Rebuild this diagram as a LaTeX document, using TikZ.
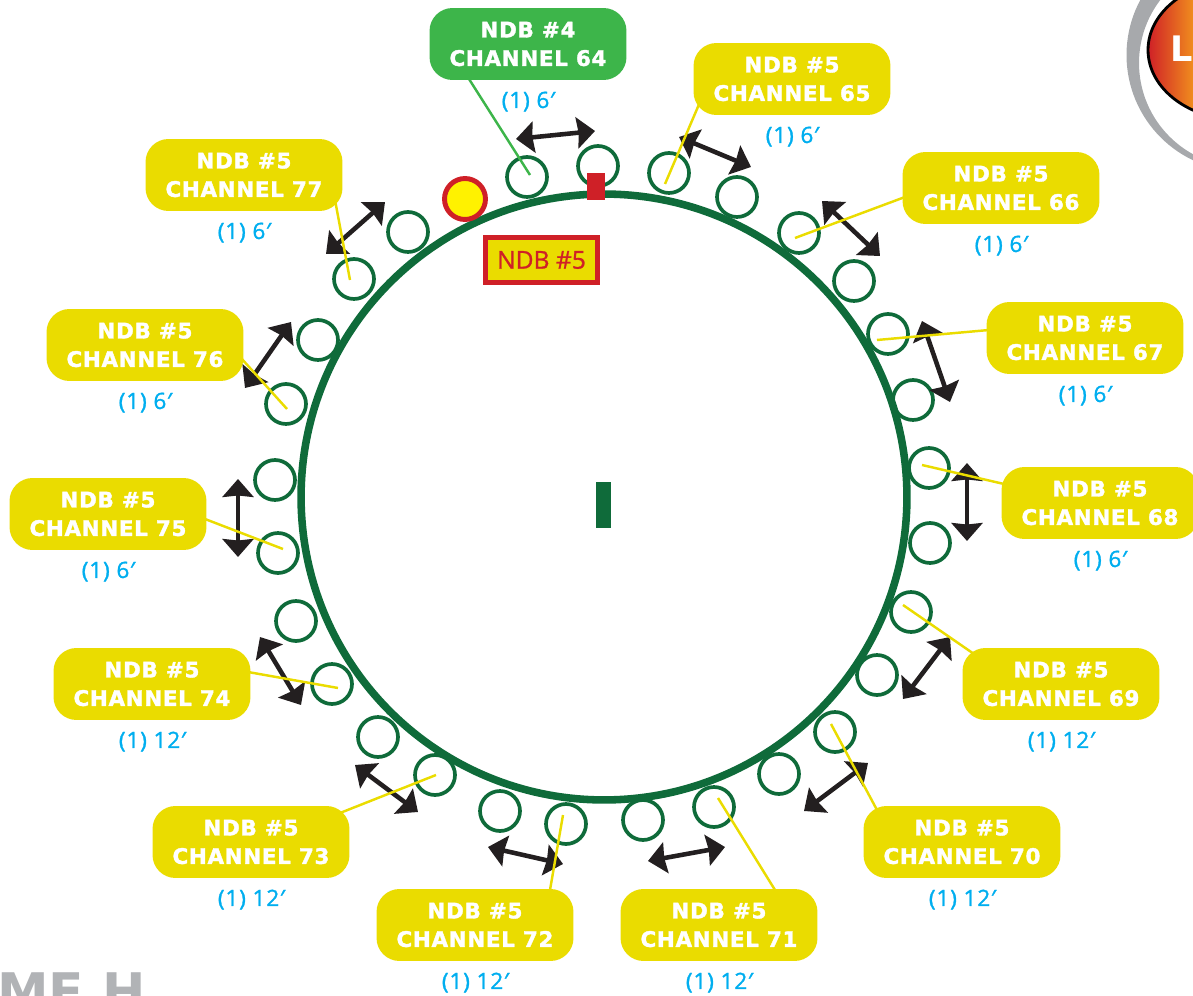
\documentclass[tikz,border=0pt]{standalone}
\usepackage{fontspec}
\usepackage{tikz}
\usetikzlibrary{arrows.meta,shapes.geometric,positioning}
\setmainfont{Open Sans}
\newfontfamily\heavyfont[LetterSpace=3,FakeBold=1.6]{DejaVu Sans Bold}
\newfontfamily\greyfont{DejaVu Sans}
\newfontfamily\capfont[LetterSpace=4,FakeBold=1.4]{Open Sans}
\newfontfamily\legendfont[FakeBold=1]{Open Sans}
\definecolor{ndbgreen}{RGB}{61,181,74}
\definecolor{ndbyellow}{RGB}{234,220,0}
\definecolor{trackgreen}{RGB}{15,107,58}
\definecolor{ndbred}{RGB}{207,32,39}
\definecolor{capblue}{RGB}{0,174,239}
\definecolor{dotyellow}{RGB}{255,242,0}
\definecolor{arrowblack}{RGB}{35,31,32}
\definecolor{swirlgrey}{RGB}{167,169,172}
\definecolor{titlegrey}{RGB}{177,179,182}
\definecolor{badgeorange}{RGB}{240,140,30}
\tikzstyle{zone} = [rectangle,rounded corners=.46cm,fill=ndbyellow,text=white,minimum width=3.94cm,minimum height=1.44cm,align=center,inner sep=0pt,font=\heavyfont\fontsize{12.2}{16.2}\selectfont]
\tikzstyle{caplabel} = [text=capblue,inner sep=0pt,font=\capfont\fontsize{12.8}{15}\selectfont]
\tikzstyle{slot} = [circle,draw=trackgreen,line width=2.1pt,minimum size=.8cm,inner sep=0pt]
\tikzstyle{leader} = [line width=1.4pt,color=ndbyellow]
\tikzstyle{dblarrow} = [line width=2.6pt,color=arrowblack,{Stealth[length=.36cm,width=.62cm,inset=.03cm]}-{Stealth[length=.36cm,width=.62cm,inset=.03cm]}]

\begin{document}
\begin{tikzpicture}[x=.02cm,y=-.02cm]
\useasboundingbox (0,0) rectangle (1193,996);
\clip (0,0) rectangle (1193,996);

% Corner badge
\fill[swirlgrey,even odd rule] (1243,55) circle (116.5) (1243,63) circle (104);
\begin{scope}
\clip (1240,50) ellipse (92 and 70);
\shade[left color=ndbred,right color=badgeorange] (1148,-25) rectangle (1193,125);
\end{scope}
\node[ellipse,draw=black,line width=1.6pt,minimum width=3.68cm,minimum height=2.8cm] (badge) at (1240,50) {};
\node[text=white,anchor=base west,inner sep=0pt,font=\greyfont\bfseries\fontsize{20}{20}\selectfont] (badgetext) at (1170,62) {L};

% Title remains
\node[text=titlegrey,anchor=base west,inner sep=0pt,font=\greyfont\bfseries\fontsize{29.5}{30}\selectfont] (title) at (-3,1010) {ME H};

% Slots
\foreach \n/\x/\y in {1/527/177,2/598/166,3/669/173,4/737/197,5/799/233,6/854/281,7/888/334,8/913/400,
  9/929/468,10/930/543,11/911/612,12/877/675,13/835/732,14/779/774,15/714/807,16/643/820,
  17/566/824,18/500/811,19/435/775,20/378/737,21/332/684,22/296/621,23/278/553,24/275/480,
  25/286/404,26/318/340,27/354/279,28/408/232} {
    \node[slot] (slot\n) at (\x,\y) {};
}

% Track
\node[circle,draw=trackgreen,line width=4.3pt,minimum size=12.12cm,inner sep=0pt] (track) at (604,497) {};
\node[rectangle,fill=trackgreen,minimum width=.3cm,minimum height=.92cm,inner sep=0pt] (center) at (603.5,505) {};
\node[rectangle,fill=ndbred,minimum width=.37cm,minimum height=.54cm,inner sep=0pt] (mark) at (596,187) {};
\node[circle,draw=ndbred,fill=dotyellow,line width=2.8pt,minimum size=.82cm,inner sep=0pt] (dot) at (465,199) {};
\node[rectangle,draw=ndbred,fill=ndbyellow,line width=3.2pt,minimum width=2.24cm,minimum height=.9cm,inner sep=0pt,text=ndbred,font=\legendfont\fontsize{14}{16}\selectfont] (legend) at (541.5,260) {NDB \#5};

% Spacing arrows
\foreach \n/\ax/\ay/\bx/\by in {1/516/139/595/131,2/679/137/751/167,3/822/201/880/256,4/922/321/950/402,
  5/967/463/967/541,6/950/637/903/699,7/868/763/804/811,8/725/847/648/861,9/563/864/488/847,
  10/418/812/355/765,11/301/705/260/637,12/238/479/238/557,13/245/388/291/322,14/385/202/326/254} {
    \coordinate (p\n) at (\ax,\ay);
    \coordinate (q\n) at (\bx,\by);
    \draw[dblarrow] (p\n) -- (q\n);
}

% Channel labels
\node[zone,fill=ndbgreen] (n64) at (528,44) {NDB \#4\\CHANNEL 64};
\node[caplabel,below=.22cm of n64] (c64) {(1) 6{\itshape ′}};
\foreach \ch/\x/\y/\cap in {65/792/79/6,66/1001/188/6,67/1085/338/6,68/1100/503/6,69/1061/684/12,
  70/962/842/12,71/719/925/12,72/475/925/12,73/251/842/12,74/152/684/12,75/108/514/6,76/145/345/6,77/244/175/6} {
    \node[zone] (n\ch) at (\x,\y) {NDB \#5\\CHANNEL \ch};
    \node[caplabel,below=.22cm of n\ch] (c\ch) {(1) \cap{\itshape ′}};
}

% Leaders
\coordinate (t64) at (530,175);
\draw[leader,color=ndbgreen] ([shift={(-59,35)}]n64.center) -- (t64);
\foreach \ch/\sx/\sy/\x/\y in {65/-92/23/665/184,66/-96/9/795/238,67/-96/-8/877/340,68/-96/-19/922/465,69/-87/-30/903/605,
  70/-85/-32/831/724,71/56/-35/718/798,72/75/-35/563/815,73/89/-29/436/775,74/96/-12/338/688,75/97/5/283/549,76/96/13/287/409,77/91/25/350/280} {
    \coordinate (t\ch) at (\x,\y);
    \draw[leader] ([shift={(\sx,\sy)}]n\ch.center) -- (t\ch);
}
\end{tikzpicture}
\end{document}
